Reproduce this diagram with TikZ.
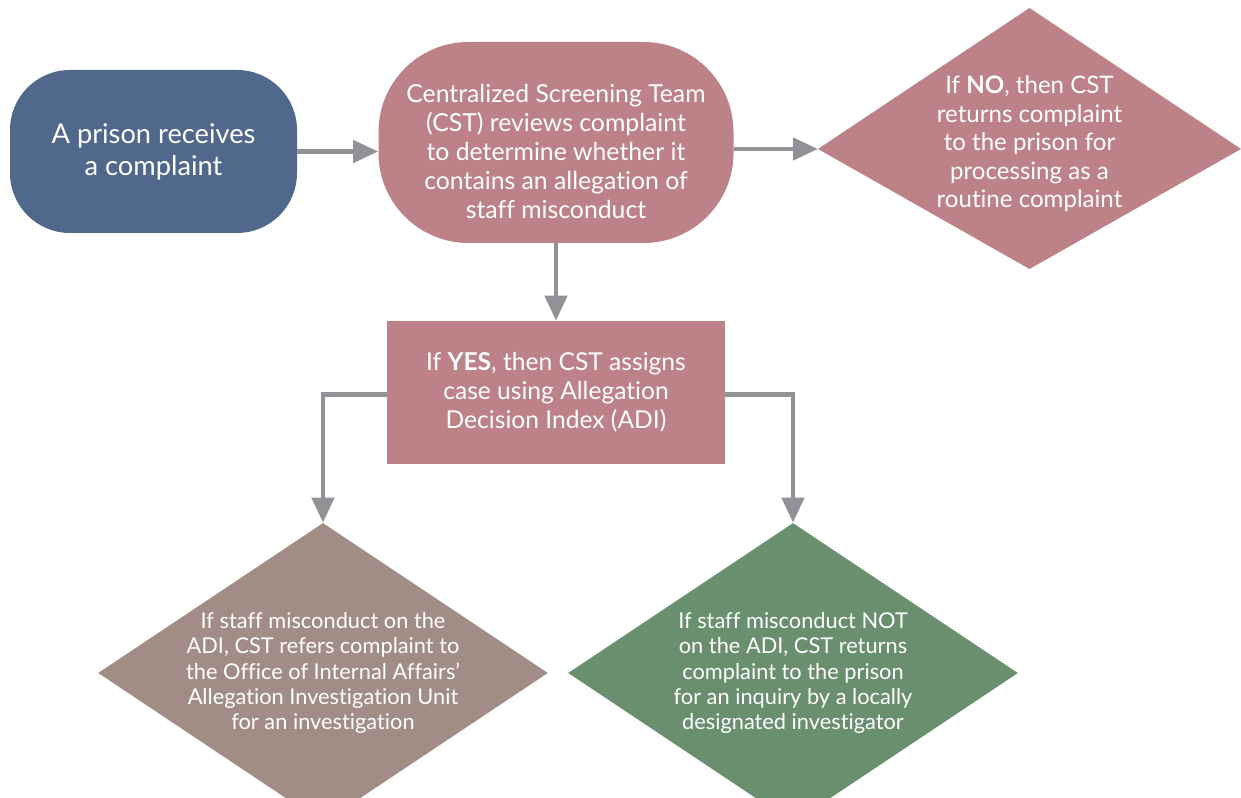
\documentclass[tikz,border=0pt]{standalone}
\usepackage{fontspec}
\setmainfont{Lato}[Ligatures=NoCommon]
\usetikzlibrary{arrows.meta, positioning, shapes.geometric}
\definecolor{startblue}{HTML}{4F688C}
\definecolor{cstpink}{HTML}{BD8288}
\definecolor{aiutaupe}{HTML}{A18D85}
\definecolor{localgreen}{HTML}{6A8F6E}
\definecolor{arrowgray}{HTML}{919296}

\begin{document}
\begin{tikzpicture}[every node/.style={text=white, align=center, inner sep=0pt},
    roundbox/.style={rectangle, rounded corners=#1},
    decision/.style={diamond, inner sep=-1cm},
    flow/.style={draw=arrowgray, line width=2.6pt, -{Triangle[length=0.5cm, width=0.44cm]}}]
  \useasboundingbox (0,0) rectangle (24.82,15.96);
  \clip (0,0) rectangle (24.82,15.96);
  % top row
  \node[roundbox=1.2cm, fill=startblue, minimum width=5.74cm, minimum height=3.26cm,
        font=\fontsize{15.5}{18.2}\selectfont] (prison) at (3.07,12.93) {A prison receives\\a complaint};
  \node[roundbox=1.8cm, fill=cstpink, minimum width=7.1cm, minimum height=4.02cm,
        text height=86pt, text depth=0pt,
        font=\fontsize{14.1}{16.4}\selectfont] (cst) at (11.12,13.11)
        {Centralized Screening Team\\(CST) reviews complaint\\to determine whether it\\contains an allegation of\\staff misconduct};
  % the NO decision is taller above its side tips than below
  \coordinate (notip) at (16.36,12.98);
  \fill[cstpink] (notip) -- ++(4.23,2.82) -- ++(4.23,-2.82) -- ++(-4.23,-2.40) -- cycle;
  \node[font=\fontsize{13.7}{16.2}\selectfont] (nocase) at (20.59,13.08)
        {If \textbf{NO}, then CST\\returns complaint\\to the prison for\\processing as a\\routine complaint};
  % middle
  \node[fill=cstpink, minimum width=6.76cm, minimum height=2.86cm,
        font=\fontsize{14}{16.4}\selectfont] (yescase) at (11.12,8.11)
        {If \textbf{YES}, then CST assigns\\case using Allegation\\Decision Index (ADI)};
  % bottom row
  \node[decision, fill=aiutaupe, minimum width=9cm, minimum height=6cm,
        font=\fontsize{12.4}{14.5}\selectfont] (aiu) at (6.46,2.5)
        {If staff misconduct on the\\ADI, CST refers complaint to\\the Office of Internal Affairs’\\Allegation Investigation Unit\\for an investigation};
  \node[decision, fill=localgreen, minimum width=9cm, minimum height=6cm,
        font=\fontsize{12.4}{14.5}\selectfont] (local) at (15.86,2.5)
        {If staff misconduct NOT\\on the ADI, CST returns\\complaint to the prison\\for an inquiry by a locally\\designated investigator};
  % connectors
  \draw[flow] (prison.east) -- (cst.west |- prison.east);
  \draw[flow] (cst.east |- notip) -- (notip);
  \draw[flow] (cst.south) -- (yescase.north);
  \draw[flow] ([yshift=-1pt]yescase.west) -| (aiu.north);
  \draw[flow] ([yshift=-1pt]yescase.east) -| (local.north);
\end{tikzpicture}
\end{document}
